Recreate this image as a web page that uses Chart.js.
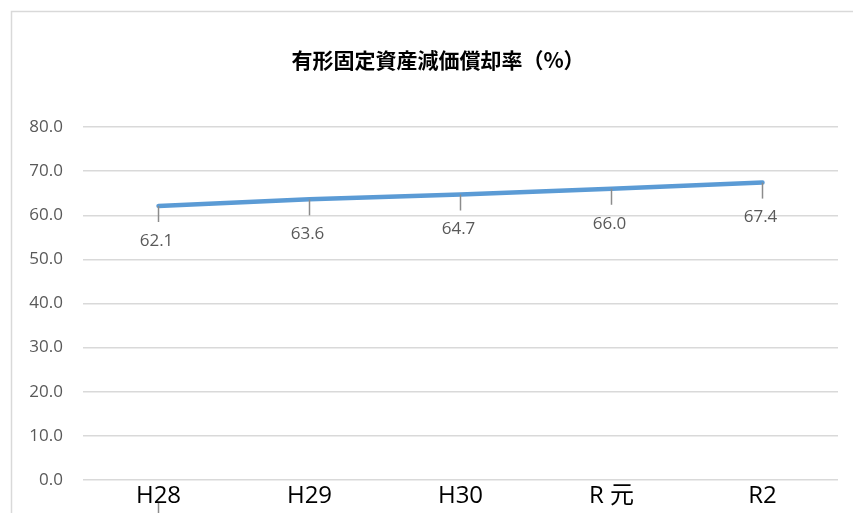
<!DOCTYPE html>
<html lang="ja">
<head>
<meta charset="utf-8">
<title>有形固定資産減価償却率（%）</title>
<script src="https://cdn.jsdelivr.net/npm/chart.js@4/dist/chart.umd.min.js"></script>
<style>
  html, body { margin: 0; padding: 0; background: #ffffff; }
  #wrap { width: 853px; height: 513px; position: relative; }
</style>
</head>
<body>
<div id="wrap"><canvas id="c" width="853" height="513"></canvas></div>
<script>
// Fiscal years and depreciation ratio (%)
const categories = ['H28', 'H29', 'H30', 'R 元', 'R2'];
const ratioValues = [62.1, 63.6, 64.7, 66.0, 67.4];
const yTickValues = [0, 10, 20, 30, 40, 50, 60, 70, 80];
const chartTitle = '有形固定資産減価償却率（%）';

const NUM_FONT = '"Open Sans", "Liberation Sans", sans-serif';
const CAT_FONT = '"Open Sans", "Noto Sans CJK JP", sans-serif';

// Frame around the chart, title, small drop ticks under each point, and value labels
const decorations = {
  id: 'decorations',
  beforeDraw(chart) {
    const ctx = chart.ctx;
    ctx.save();
    ctx.strokeStyle = '#d9d9d9';
    ctx.lineWidth = 1.5;
    ctx.strokeRect(11.5, 11.5, 850, 520);
    ctx.fillStyle = '#000000';
    ctx.font = 'bold 21px "Noto Sans CJK JP", sans-serif';
    ctx.textAlign = 'center';
    ctx.textBaseline = 'middle';
    ctx.fillText(chartTitle, 438, 60);
    ctx.restore();
  },
  afterDatasetsDraw(chart) {
    const ctx = chart.ctx;
    const meta = chart.getDatasetMeta(0);
    ctx.save();
    ctx.strokeStyle = '#8c8c8c';
    ctx.lineWidth = 1.5;
    meta.data.forEach((pt) => {
      ctx.beginPath();
      ctx.moveTo(pt.x, pt.y);
      ctx.lineTo(pt.x, pt.y + 16);
      ctx.stroke();
    });
    const first = meta.data[0];
    ctx.beginPath();
    ctx.moveTo(first.x, 503);
    ctx.lineTo(first.x, 513);
    ctx.stroke();

    ctx.fillStyle = '#595959';
    ctx.font = '17px ' + NUM_FONT;
    ctx.textAlign = 'center';
    ctx.textBaseline = 'middle';
    meta.data.forEach((pt, i) => {
      ctx.fillText(ratioValues[i].toFixed(1), pt.x - 2, pt.y + 35);
    });
    ctx.restore();
  }
};

new Chart(document.getElementById('c'), {
  type: 'line',
  data: {
    labels: categories,
    datasets: [{
      data: ratioValues,
      borderColor: '#5b9bd5',
      borderWidth: 4.5,
      borderCapStyle: 'round',
      tension: 0,
      pointRadius: 0,
      pointHoverRadius: 0,
      fill: false
    }]
  },
  options: {
    responsive: false,
    animation: false,
    devicePixelRatio: 1,
    layout: { padding: { top: 127, right: 15, bottom: 0, left: 0 } },
    plugins: {
      legend: { display: false },
      title: { display: false },
      tooltip: { enabled: false }
    },
    scales: {
      x: {
        offset: true,
        grid: { display: false, drawTicks: false },
        border: { display: false },
        ticks: {
          color: '#000000',
          font: { family: CAT_FONT, size: 24 },
          padding: 2,
          maxRotation: 0,
          autoSkip: false
        },
        afterFit(scale) { scale.height = 33; }
      },
      y: {
        min: 0,
        max: 80,
        afterBuildTicks(scale) { scale.ticks = yTickValues.map(v => ({ value: v })); },
        grid: { color: '#d9d9d9', lineWidth: 1.5, drawTicks: false },
        border: { display: false },
        ticks: {
          color: '#595959',
          font: { family: NUM_FONT, size: 17 },
          padding: 20,
          callback: (v) => Number(v).toFixed(1)
        },
        afterFit(scale) { scale.width = 83; }
      }
    }
  },
  plugins: [decorations]
});
</script>
</body>
</html>
